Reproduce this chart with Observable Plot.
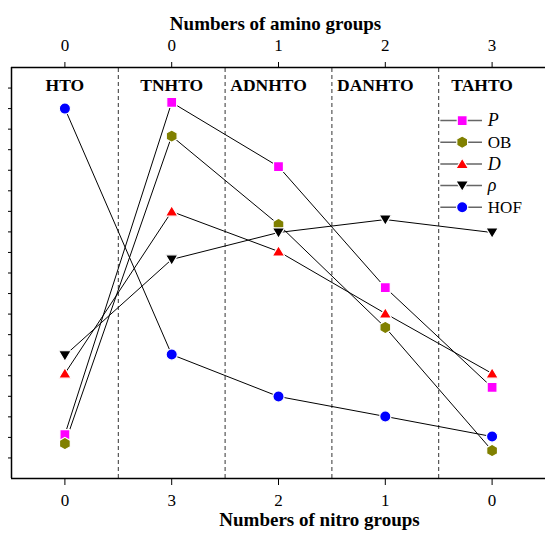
<!DOCTYPE html>
<html><head><meta charset="utf-8">
<script src="https://cdn.jsdelivr.net/npm/d3@7"></script>
<script src="https://cdn.jsdelivr.net/npm/@observablehq/plot@0.6"></script>
<style>
body{margin:0;background:#fff}
svg{display:block}
#chart svg, #chart svg text {font-family: "Liberation Serif", "Times New Roman", serif !important;}
</style>
</head><body><div id="chart"></div>
<script>
const compounds = ["HTO", "TNHTO", "ADNHTO", "DANHTO", "TAHTO"];
const aminoGroups = [0, 0, 1, 2, 3];
const nitroGroups = [0, 3, 2, 1, 0];
const P   = [2.14, 18.30, 15.18, 9.29, 4.43];
const OB  = [1.70, 16.66, 12.36, 7.35, 1.36];
const D   = [5.11, 12.99, 11.05, 8.03, 5.11];
const rho = [5.99, 10.66, 11.97, 12.60, 11.97];
const HOF = [18.00, 6.03, 3.99, 3.02, 2.04];
const seriesNames = ["P", "OB", "D", "ρ", "HOF"];
const seriesItalic = [true, false, true, true, false];
const seriesColors = ["#FF00FF", "#808000", "#FF0000", "#000000", "#0000FF"];
const seriesValues = [P, OB, D, rho, HOF];
const yTicks = d3.range(1, 20);

const triUp = {draw(ctx, size) { const r = Math.sqrt(size / Math.PI); ctx.moveTo(0, -r * 1.0); ctx.lineTo(r * 1.08, r * 0.8); ctx.lineTo(-r * 1.08, r * 0.8); ctx.closePath(); }};
const triDown = {draw(ctx, size) { const r = Math.sqrt(size / Math.PI); ctx.moveTo(0, r * 1.0); ctx.lineTo(r * 1.08, -r * 0.8); ctx.lineTo(-r * 1.08, -r * 0.8); ctx.closePath(); }};
const seriesSymbols = ["square", "hexagon", triUp, triDown, "circle"];
const seriesR = [5.6, 5.4, 5.8, 5.8, 5.6];

const rows = seriesNames.flatMap((s, i) => compounds.map((c, j) => ({series: s, idx: j, v: seriesValues[i][j]})));
const n = compounds.length;
const separators = d3.range(n - 1).map(i => i + 0.5);

// legend (in data units)
const legX = 3.72, legX1 = 3.52, legX2 = 3.91, legTX = 3.96, legY0 = 17.42, legStep = 1.056;
const legend = seriesNames.map((s, i) => ({s, i, y: legY0 - i * legStep, italic: seriesItalic[i]}));

const marks = [
  Plot.ruleX(separators, {x: d => d, y1: 0, y2: 20, stroke: "#333", strokeWidth: 1, strokeDasharray: "4,3"}),
  Plot.ruleY([0, 20], {x1: -0.5, x2: 4.5, stroke: "black", strokeWidth: 1.5}),
  Plot.ruleX([-0.5], {y1: 0, y2: 20, stroke: "black", strokeWidth: 1.5}),
  Plot.axisX({anchor: "top", ticks: d3.range(n), tickFormat: i => aminoGroups[i], tickSize: 6, tickPadding: 11, fontSize: 17, label: null}),
  Plot.axisX({anchor: "bottom", ticks: d3.range(n), tickFormat: i => nitroGroups[i], tickSize: 7, tickPadding: 8, fontSize: 17, label: null}),
  Plot.axisY({anchor: "left", ticks: yTicks, tickFormat: () => "", tickSize: 3, label: null}),
  Plot.line(rows, {x: "idx", y: "v", z: "series", stroke: "black", strokeWidth: 1}),
  // legend lines
  Plot.ruleY(legend, {y: "y", x1: legX1, x2: legX2, stroke: "#666", strokeWidth: 1.5}),
];
seriesNames.forEach((s, i) => {
  marks.push(Plot.dot(rows.filter(d => d.series === s), {x: "idx", y: "v", symbol: () => seriesSymbols[i], r: seriesR[i], fill: seriesColors[i], stroke: "white", strokeWidth: 1.2}));
  marks.push(Plot.dot([legend[i]], {x: () => legX, y: "y", symbol: () => seriesSymbols[i], r: seriesR[i], fill: seriesColors[i], stroke: "white", strokeWidth: 1.2}));
});
marks.push(
  Plot.text(legend.filter(d => d.italic), {x: () => legTX, y: "y", text: "s", textAnchor: "start", fontSize: 18, fontStyle: "italic"}),
  Plot.text(legend.filter(d => !d.italic), {x: () => legTX, y: "y", text: "s", textAnchor: "start", fontSize: 17}),
  Plot.text(compounds.map((c, i) => ({c, i})).filter(d => d.i < 2), {x: "i", frameAnchor: "top", dy: 11, text: "c", fontSize: 17.5, fontWeight: "bold"}),
  Plot.text(compounds.map((c, i) => ({c, i})).filter(d => d.i >= 2), {x: "i", frameAnchor: "top", dy: 11, dx: -10, text: "c", fontSize: 17.5, fontWeight: "bold"}),
  Plot.text(["Numbers of amino groups"], {frameAnchor: "top", dy: -51, text: d => d, fontSize: 19, fontWeight: "bold", dx: -3}),
  Plot.text(["Numbers of nitro groups"], {frameAnchor: "bottom", dy: 47, text: d => d, fontSize: 19, fontWeight: "bold", dx: 41})
);

const chart = Plot.plot({
  width: 545, height: 535,
  marginLeft: 11, marginRight: 0, marginTop: 67, marginBottom: 57,
  x: {type: "linear", domain: [-0.5, 4.5]},
  y: {domain: [0, 20]},
  style: {fontFamily: "Liberation Serif, serif", color: "black", background: "white", overflow: "visible"},
  marks
});
document.getElementById("chart").appendChild(chart);
</script></body></html>
